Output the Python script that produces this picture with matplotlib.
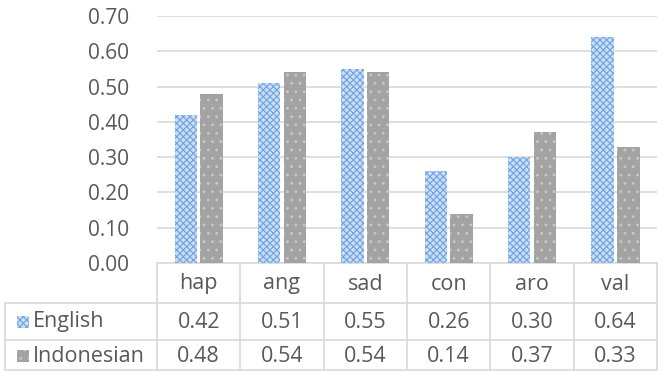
import matplotlib.pyplot as plt
import matplotlib.transforms as mtrans
from matplotlib.patches import Rectangle
import numpy as np

categories = ["hap", "ang", "sad", "con", "aro", "val"]
english = [0.42, 0.51, 0.55, 0.26, 0.30, 0.64]
indonesian = [0.48, 0.54, 0.54, 0.14, 0.37, 0.33]
series_names = ["English", "Indonesian"]
yticks = [0.0, 0.1, 0.2, 0.3, 0.4, 0.5, 0.6, 0.7]

W, H = 668, 372
plt.rcParams['font.family'] = ['Open Sans', 'DejaVu Sans']
plt.rcParams['hatch.linewidth'] = 0.8
text_col = "#595959"
line_col = "#d9d9d9"

blue_face, blue_hatch = "#c9def5", "#6fa3e0"
gray_face, gray_hatch = "#a3a3a3", "#c8c8c8"

fig = plt.figure(figsize=(W / 100, H / 100), dpi=100)
left, right, top, bottom = 157, 657, 16, 263
ax = fig.add_axes([left / W, 1 - bottom / H, (right - left) / W, (bottom - top) / H])

x = np.arange(len(categories))
bw = 0.27
ax.bar(x - 0.155, english, width=bw, color=blue_face, edgecolor=blue_hatch,
       hatch="xxxxx", linewidth=0, zorder=3)
ax.bar(x + 0.155, indonesian, width=bw, color=gray_face, edgecolor=gray_hatch,
       hatch="..", linewidth=0, zorder=3)

ax.set_xlim(-0.5, len(categories) - 0.5)
ax.set_ylim(0, 0.70)
ax.set_yticks(yticks)
ax.set_yticklabels(["%.2f" % v for v in yticks], color=text_col, fontsize=15)
ax.tick_params(axis="y", length=0, pad=20)
ax.set_xticks([])
ax.yaxis.grid(True, color=line_col, linewidth=1.2, zorder=0)
for s in ["top", "right", "left"]:
    ax.spines[s].set_visible(False)
ax.spines["bottom"].set_color(line_col)
ax.spines["bottom"].set_linewidth(1.2)

# data table below the chart
trans = mtrans.blended_transform_factory(ax.transData, fig.transFigure)
def fy(py):
    return 1 - py / H

row_lines = [263, 303, 340, 370]
for py in row_lines[1:]:
    fig.add_artist(plt.Line2D([5 / W, right / W], [fy(py), fy(py)], color=line_col, lw=1.2))
fig.add_artist(plt.Line2D([5 / W, 5 / W], [fy(303), fy(370)], color=line_col, lw=1.2))
for k in range(len(categories) + 1):
    fig.add_artist(plt.Line2D([k - 0.5, k - 0.5], [fy(263), fy(370)], color=line_col,
                              lw=1.2, transform=trans))

fs = 15.5
for i, c in enumerate(categories):
    fig.text(i, fy(284), c, transform=trans, ha="center", va="center", color=text_col, fontsize=fs)
    fig.text(i, fy(322), "%.2f" % english[i], transform=trans, ha="center", va="center",
             color=text_col, fontsize=fs)
    fig.text(i, fy(356), "%.2f" % indonesian[i], transform=trans, ha="center", va="center",
             color=text_col, fontsize=fs)

# legend keys in the table
keys = [(322, blue_face, blue_hatch, "xxxxx"), (356, gray_face, gray_hatch, "..")]
for name, (py, fc, hc, ht) in zip(series_names, keys):
    fig.add_artist(Rectangle((17 / W, fy(py + 6)), 12 / W, 12 / H, facecolor=fc,
                             edgecolor=hc, hatch=ht, linewidth=0, transform=fig.transFigure))
    fig.text(33 / W, fy(py), name, ha="left", va="center", color=text_col, fontsize=fs)

fig.savefig("out.png", dpi=100)
